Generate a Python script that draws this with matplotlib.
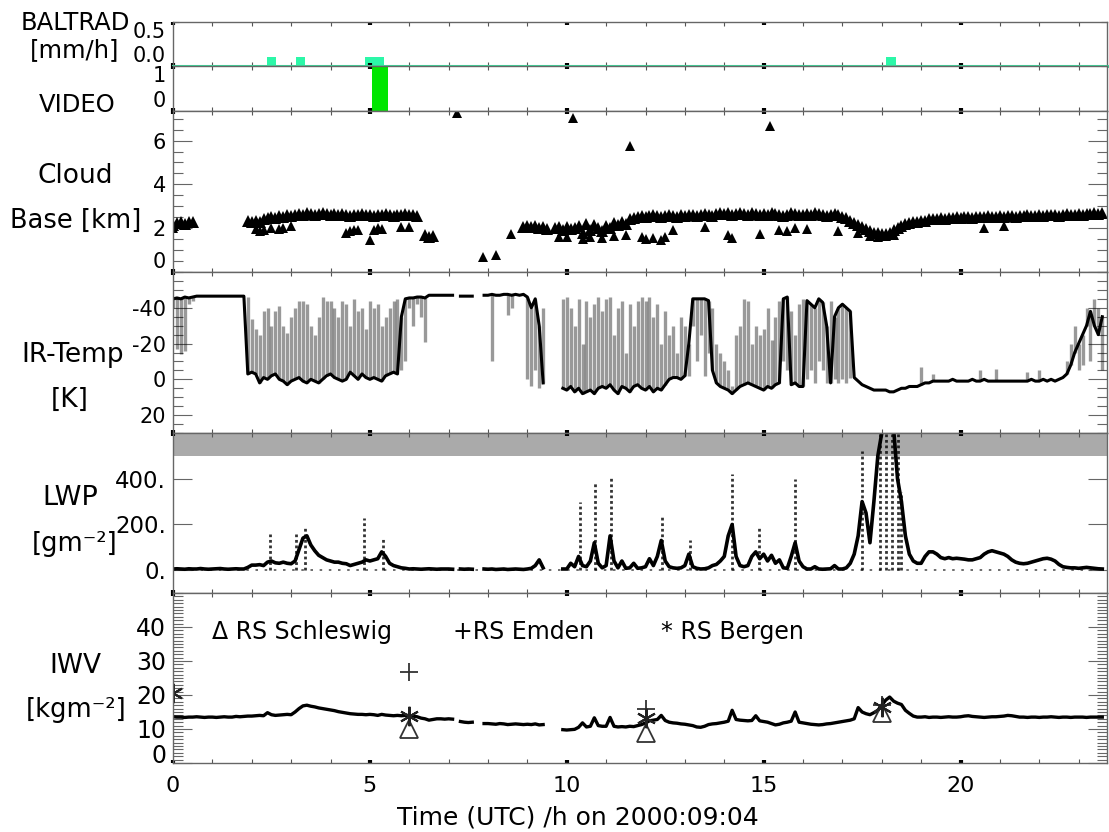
import numpy as np
import matplotlib
matplotlib.use('Agg')
import matplotlib.pyplot as plt
from matplotlib.ticker import FixedLocator, MultipleLocator, NullLocator

plt.rcParams['font.family'] = ['DejaVu Sans']
plt.rcParams['axes.unicode_minus'] = False

nan = np.nan

# 6-minute time axis for the day (hours UTC)
hours = np.round(np.arange(0, 23.65, 0.1), 1)

# BALTRAD rain rate blocks [mm/h]
rain_start = [2.39, 3.12, 4.87, 18.10]
rain_end = [2.61, 3.35, 5.36, 18.35]
rain_rate = [0.1, 0.1, 0.1, 0.1]

# video rain flag
video_start = [5.05]
video_end = [5.45]
video_flag = [1]

# cloud base [km], main layer
cloud_base = [
    2.15, 2.25, 2.3, 2.2, 2.3, 2.3, nan, nan, nan, nan,
    nan, nan, nan, nan, nan, nan, nan, nan, nan, 2.35,
    2.3, 2.35, 2.3, 2.4, 2.45, 2.5, 2.45, 2.55, 2.5, 2.6,
    2.55, 2.6, 2.65, 2.6, 2.7, 2.65, 2.6, 2.65, 2.7, 2.65,
    2.6, 2.65, 2.6, 2.65, 2.6, 2.55, 2.6, 2.6, 2.65, 2.6,
    2.6, 2.55, 2.6, 2.6, 2.65, 2.6, 2.55, 2.6, 2.6, 2.65,
    2.6, 2.6, 2.55, nan, 1.7, 1.6, 1.65, nan, nan, nan,
    nan, nan, nan, nan, nan, nan, nan, nan, nan, nan,
    nan, nan, nan, nan, nan, nan, nan, nan, nan, 2.05,
    2.1, 2.05, 2.1, 2.0, 2.05, 1.95, nan, 2.0, 2.05, 1.9,
    2.05, 1.95, 2.0, 2.1, 1.8, 2.2, 1.9, 2.15, 2.0, 1.85,
    2.1, 2.0, 2.25, 2.15, 2.3, 2.2, 2.4, 2.45, 2.5, 2.55,
    2.5, 2.55, 2.6, 2.55, 2.5, 2.55, 2.6, 2.55, 2.5, 2.6,
    2.55, 2.6, 2.6, 2.55, 2.6, 2.65, 2.6, 2.55, 2.65, 2.7,
    2.65, 2.7, 2.6, 2.65, 2.7, 2.65, 2.6, 2.7, 2.65, 2.6,
    2.65, 2.6, 2.7, 2.65, 2.6, 2.55, 2.6, 2.7, 2.65, 2.6,
    2.6, 2.65, 2.6, 2.7, 2.65, 2.6, 2.55, 2.6, 2.65, 2.6,
    2.5, 2.45, 2.35, 2.25, 2.15, 2.05, 1.95, 1.85, 1.8, 1.8,
    1.75, 1.75, 1.8, 1.9, 2.0, 2.1, 2.2, 2.25, 2.3, 2.3,
    2.35, 2.35, 2.4, 2.4, 2.4, 2.45, 2.4, 2.45, 2.45, 2.5,
    2.45, 2.5, 2.5, 2.45, 2.5, 2.5, 2.5, 2.55, 2.5, 2.5,
    2.55, 2.5, 2.55, 2.55, 2.5, 2.55, 2.55, 2.6, 2.55, 2.55,
    2.6, 2.55, 2.6, 2.6, 2.6, 2.55, 2.6, 2.65, 2.6, 2.6,
    2.65, 2.6, 2.65, 2.65, 2.7, 2.65, 2.7]

# scattered lower / isolated cloud base hits
cb_extra_t = [0.0, 2.1, 2.2, 2.3, 2.5, 2.7, 2.8, 3.0, 4.4, 4.5, 4.6, 4.7, 5.0, 5.1,
              5.2, 5.3, 5.8, 6.0, 7.2, 7.87, 8.2, 8.58, 9.8, 10.0, 10.15, 10.4,
              10.6, 10.9, 11.2, 11.5, 11.6, 11.9, 12.0, 12.2, 12.4, 12.5, 12.7,
              13.5, 14.1, 14.2, 14.9, 15.15, 15.4, 15.6, 15.8, 16.1, 16.9, 17.4,
              17.7, 17.9, 18.1, 18.3, 20.6, 21.1]
cb_extra = [2.0, 1.95, 1.85, 1.9, 2.0, 1.95, 2.0, 2.1, 1.8, 1.85, 1.9, 1.9, 1.45, 1.9,
            2.0, 1.95, 2.05, 2.05, 7.27, 0.68, 0.77, 1.73, 1.6, 1.6, 7.05, 1.5,
            1.6, 1.55, 1.65, 1.7, 5.77, 1.6, 1.5, 1.55, 1.45, 1.6, 1.9,
            2.05, 1.7, 1.55, 1.75, 6.68, 1.9, 1.85, 2.0, 1.95, 1.85, 1.8,
            1.65, 1.6, 1.65, 1.7, 2.0, 2.1]

# IR brightness temperature: dominant trace and extent of fluctuations
ir_main = [
    -45, -45.5, -45, -46, -45.5, -46, -46.5, -46.5, -46.5, -46.5,
    -46.5, -46.5, -46.5, -46.5, -46.5, -46.5, -46.5, -46.5, -46.5, -3,
    -4, -3, 2, -1, 0, -2, -3, 0, 1, 3,
    1, 0, -1, 1, 2, 0, 1, 2, 0, -2,
    -3, -1, 0, 1, 0, -4, -2, 0, -3, -1,
    0, -1, 0, 1, -2, -3, -4, -3, -35, -45,
    -45.5, -45.5, -46, -46, -45.5, -47, -47, -47, -47, -47,
    -47, -47, nan, -46.5, -46.5, -46.5, -46.5, nan, nan, -47,
    -47, -47.5, -47, -47, -47.5, -47.5, -47, -47.5, -47, -47.5,
    -46, -40, -45, -30, 2, nan, nan, nan, nan, 5,
    6, 4, 7, 5, 8, 7, 6, 8, 5, 4,
    5, 3, 6, 8, 4, 5, 7, 4, 3, 5,
    6, 4, 7, 5, 6, 3, 0, -1, -1, 0,
    -2, -20, -45, -45, -45, -45, -44, -5, 2, 4,
    5, 6, 8, 6, 4, 3, 2, 3, 4, 5,
    6, 4, 5, 3, 2, -45, -46, 3, 2, 4,
    4, -44, -42, -40, -45, -43, -30, 2, -35, -40,
    -42, -40, -38, -1, 1, 3, 4, 5, 6, 6,
    6, 6, 7, 7, 6, 5, 5, 4, 4, 4,
    3, 2, 2, 1, 1, 1, 1, 1, 0, 1,
    1, 1, 1, 0, 1, 1, 0, 1, 1, 1,
    1, 1, 1, 1, 1, 1, 1, 1, 0, 1,
    1, 0, 1, 0, 1, 0, -1, -3, -8, -15,
    -20, -25, -30, -38, -30, -25, -35]

ir_streak = [
    -40, -17, -14, -16, -42, -44, -46.5, -46.5, -46.5, -46.5,
    -46.5, -46.5, -46.5, -46.5, -46.5, -46.5, -46.5, -46.5, -46.5, -46,
    -34, -28, -25, -38, -40, -30, -38, -41, -30, -26,
    -35, -40, -44, -44, -42, -30, -25, -35, -46, -44,
    -44, -40, -35, -44, -42, -30, -45, -38, -40, -28,
    -44, -40, -42, -30, -35, -40, -44, -45, -5, -10,
    -40, -30, -42, -35, -21, -47, -47, -47, -47, -47,
    -47, -47, nan, -46.5, -46.5, -46.5, -46.5, nan, nan, -47,
    -47, -10, -47, -47, -47.5, -36, -40, -47.5, -47, -47.5,
    0, 4, -5, 5, -40, nan, nan, nan, nan, -45,
    -46, -40, -30, -45, -20, -44, -35, -42, -46, -38,
    -45, -46, -25, -40, -44, -15, -42, -30, -44, -46,
    -44, -46, -35, -42, -20, -38, -25, -30, -15, -35,
    -30, -2, -30, -10, -25, -2, -15, -40, -20, -15,
    -10, -5, 4, -25, -30, -45, -44, -20, -30, -25,
    -28, -40, -22, -35, -44, -10, -5, -38, -25, -42,
    -45, 0, -5, 2, -10, -5, 2, -44, 0, 2,
    0, 2, -1, -1, 1, 3, 4, 5, 6, 6,
    6, 6, 7, 7, 6, 5, 5, 4, 4, 4,
    -7, 2, 2, -3, 1, 1, 1, 1, 0, 1,
    1, 1, 1, 0, 1, -5, 0, 1, 1, -6,
    1, 1, 1, 1, 1, 1, 1, -4, 0, 1,
    -5, 0, 1, 0, 1, 0, -1, -10, -20, -30,
    -5, -8, -40, -10, -45, -40, -5]

# liquid water path [g/m2]
lwp = [
    5, 6, 5, 4, 6, 5, 5, 7, 5, 4,
    5, 6, 7, 5, 4, 5, 6, 5, 5, 12,
    22, 22, 24, 20, 35, 40, 32, 30, 35, 30,
    28, 40, 90, 140, 150, 110, 85, 65, 55, 45,
    40, 35, 35, 30, 28, 20, 25, 30, 35, 45,
    40, 45, 50, 80, 60, 30, 20, 15, 10, 8,
    5, 6, 5, 4, 5, 6, 5, 4, 5, 5,
    5, 4, nan, 5, 4, 5, 4, nan, nan, 5,
    4, 5, 3, 4, 5, 3, 4, 5, 4, 3,
    5, 8, 20, 45, 10, nan, nan, nan, nan, 5,
    5, 30, 15, 60, 20, 15, 40, 120, 30, 10,
    20, 150, 40, 10, 40, 8, 10, 30, 8, 10,
    15, 50, 20, 60, 130, 40, 15, 10, 8, 10,
    20, 70, 15, 8, 5, 6, 10, 20, 25, 40,
    60, 150, 200, 60, 20, 15, 20, 60, 80, 50,
    70, 40, 65, 30, 45, 10, 8, 60, 120, 40,
    15, 5, 5, 15, 5, 4, 5, 6, 20, 5,
    5, 10, 30, 70, 150, 300, 250, 120, 300, 500,
    600, 650, 700, 620, 400, 300, 150, 70, 40, 30,
    30, 60, 80, 80, 70, 55, 50, 55, 50, 52,
    50, 48, 45, 45, 50, 55, 70, 80, 85, 80,
    75, 70, 60, 45, 35, 30, 28, 30, 35, 40,
    45, 50, 52, 48, 40, 25, 15, 12, 10, 10,
    8, 10, 12, 10, 8, 6, 5]

# short LWP peaks
lwp_peak_t = [2.46, 3.12, 3.35, 4.85, 5.33, 10.33, 10.71, 11.12, 12.41, 13.12,
              14.19, 14.87, 15.79, 17.49, 17.95, 18.1, 18.25, 18.4, 18.5]
lwp_peak = [160, 160, 185, 230, 140, 300, 380, 405, 235, 130,
            420, 185, 400, 520, 600, 600, 600, 600, 340]

# integrated water vapour [kg/m2]
iwv = [
    13.6, 13.5, 13.5, 13.4, 13.5, 13.5, 13.6, 13.5, 13.4, 13.5,
    13.5, 13.4, 13.5, 13.6, 13.5, 13.5, 13.7, 13.6, 13.7, 13.8,
    13.8, 13.9, 14.0, 13.9, 14.8, 14.2, 14.0, 14.1, 14.2, 14.3,
    14.2, 15.0, 16.0, 16.8, 17.0, 16.7, 16.5, 16.2, 16.0, 15.8,
    15.6, 15.4, 15.1, 14.9, 14.7, 14.5, 14.4, 14.3, 14.3, 14.2,
    14.3, 14.2, 14.0, 14.3, 14.1, 14.0, 13.9, 14.0, 13.9, 14.0,
    14.0, 13.8, 13.6, 13.2, 13.0, 12.6, 12.8, 13.0, 13.0, 12.9,
    13.0, 12.9, nan, 12.2, 12.0, 11.9, 12.0, nan, nan, 11.6,
    11.6, 11.5, 11.4, 11.6, 11.5, 11.3, 11.4, 11.5, 11.4, 11.3,
    11.4, 11.3, 11.5, 11.2, 11.3, nan, nan, nan, nan, 9.8,
    9.7, 9.8, 9.9, 10.5, 11.8, 10.6, 10.8, 13.3, 11.0, 10.8,
    10.8, 13.4, 10.8, 10.6, 10.7, 10.6, 10.8, 10.7, 11.0, 11.3,
    11.8, 12.4, 12.6, 12.8, 14.0, 12.5, 12.0, 11.8, 11.7, 11.5,
    11.4, 11.2, 11.0, 10.6, 10.5, 10.8, 11.3, 11.5, 11.6, 11.8,
    12.0, 12.3, 15.5, 12.8, 12.6, 12.5, 12.4, 12.5, 13.9, 12.4,
    12.2, 12.0, 11.6, 11.2, 11.4, 11.8, 12.0, 12.3, 15.0, 12.0,
    11.8, 11.6, 11.4, 11.3, 11.2, 11.3, 11.5, 11.6, 11.8, 12.0,
    12.2, 12.4, 12.6, 13.0, 16.3, 15.0, 14.5, 14.2, 14.8, 15.5,
    17.0, 18.5, 19.4, 18.2, 17.6, 17.2, 15.5, 14.6, 13.8, 13.5,
    13.5, 13.6, 13.4, 13.5, 13.5, 13.4, 13.5, 13.6, 13.5, 13.5,
    13.6, 13.8, 13.9, 13.7, 13.6, 13.5, 13.4, 13.5, 13.6, 13.6,
    13.7, 13.8, 14.0, 13.9, 13.7, 13.5, 13.5, 13.4, 13.5, 13.5,
    13.4, 13.5, 13.5, 13.6, 13.5, 13.4, 13.5, 13.5, 13.4, 13.5,
    13.5, 13.5, 13.4, 13.5, 13.5, 13.5, 13.5]

# radiosonde IWV
schleswig_t = [6, 12, 18]
schleswig = [10.0, 8.8, 14.8]
emden_t = [6, 12, 18]
emden = [26.8, 16.0, 17.0]
bergen_t = [0, 6, 12, 18]
bergen = [20.5, 13.8, 13.2, 16.5]

W, H = 1109, 832
fig = plt.figure(figsize=(W / 100, H / 100), dpi=100)


def panel(top, bottom):
    return fig.add_axes([173 / W, 1 - bottom / H, 934 / W, (bottom - top) / H])


ax_rr = panel(22, 66)
ax_vid = panel(66, 111)
ax_cb = panel(111, 272)
ax_ir = panel(272, 433)
ax_lwp = panel(433, 593)
ax_iwv = panel(593, 763)
axes = [ax_rr, ax_vid, ax_cb, ax_ir, ax_lwp, ax_iwv]

for ax in axes:
    ax.set_xlim(0, 23.72)
    ax.xaxis.set_major_locator(FixedLocator([0, 5, 10, 15, 20]))
    ax.xaxis.set_minor_locator(MultipleLocator(1))
    ax.tick_params(axis='x', which='major', direction='in', length=2.5, width=3,
                   top=True, bottom=True, color='k', labelbottom=False)
    ax.tick_params(axis='x', which='minor', direction='in', length=3, width=0.8,
                   top=True, bottom=True, color='#555555')
    ax.tick_params(axis='y', which='major', direction='in', length=14, width=0.8,
                   left=True, right=True, color='#666666', labelsize=15, pad=5)
    ax.tick_params(axis='y', which='minor', direction='in', length=7, width=0.8,
                   left=True, right=True, color='#666666')
    for sp in ax.spines.values():
        sp.set_color('#666666')
        sp.set_linewidth(1.0)

# rain gauge panel
ax_rr.set_ylim(0, 0.5)
ax_rr.set_yticks([0, 0.5], labels=['0.0', '0.5'])
ax_rr.tick_params(axis='y', which='major', length=4)
ax_rr.bar(rain_start, rain_rate, width=np.subtract(rain_end, rain_start),
          align='edge', color='#2cf7a8', lw=0)
ax_rr.axhline(0, color='#3fd99c', lw=2.2, zorder=3, clip_on=False)

# video panel
ax_vid.set_ylim(0, 1)
ax_vid.set_yticks([0, 1], labels=['0', '1'])
ax_vid.tick_params(axis='y', which='major', length=4)
ax_vid.bar(video_start, video_flag, width=np.subtract(video_end, video_start),
           align='edge', color='#00e600', lw=0)

# cloud base
ax_cb.set_ylim(0, 7.35)
ax_cb.set_yticks([0, 2, 4, 6], labels=['0', '2', '4', '6'])
ax_cb.yaxis.set_minor_locator(MultipleLocator(0.5))
ax_cb.plot(hours, cloud_base, '^', color='k', ms=8, mew=0)
ax_cb.plot(cb_extra_t, cb_extra, '^', color='k', ms=6.5, mew=0)

# IR temperature
ax_ir.set_ylim(30, -60)
ax_ir.set_yticks([-40, -20, 0, 20], labels=['-40', '-20', '0', '20'])
ax_ir.yaxis.set_minor_locator(MultipleLocator(5))
ax_ir.vlines(hours, ir_main, ir_streak, colors='k', lw=2.4, alpha=0.4)
ax_ir.plot(hours, ir_main, color='k', lw=2.2)

# liquid water path
ax_lwp.set_ylim(-100, 600)
ax_lwp.set_yticks([0, 200, 400], labels=['0.', '200.', '400.'])
ax_lwp.yaxis.set_minor_locator(NullLocator())
ax_lwp.tick_params(axis='y', labelsize=16.5)
ax_lwp.axhspan(500, 600, color='#aaaaaa', lw=0, zorder=0)
ax_lwp.axhline(0, color='#555555', lw=1.2, ls=(0, (1.5, 4)))
ax_lwp.vlines(lwp_peak_t, 0, lwp_peak, colors='k', lw=2, linestyles=(0, (1, 1)), alpha=0.8)
ax_lwp.plot(hours, lwp, color='k', lw=2.6)

# water vapour
ax_iwv.set_ylim(0, 50)
ax_iwv.set_yticks([0, 10, 20, 30, 40], labels=['0', '10', '20', '30', '40'])
ax_iwv.yaxis.set_minor_locator(MultipleLocator(1))
ax_iwv.tick_params(axis='y', labelsize=17)
ax_iwv.plot(hours, iwv, color='k', lw=2.4)
ax_iwv.plot(schleswig_t, schleswig, '^', ms=13, mfc='none', mec='#333333', mew=1.3)
ax_iwv.plot(emden_t, emden, '+', ms=13, color='#333333', mew=1.3)
ax_iwv.plot(bergen_t, bergen, marker=(6, 2, 0), ls='none', ms=14, color='#222222', mew=1.5)
ax_iwv.text(1.0, 38.5, 'Δ RS Schleswig', fontsize=17, va='center')
ax_iwv.text(7.1, 38.5, '+RS Emden', fontsize=17, va='center')
ax_iwv.text(12.4, 38.5, '* RS Bergen', fontsize=17, va='center')
ax_iwv.tick_params(axis='x', which='major', labelbottom=True, labelsize=16, pad=9)

# end tick labels sit inside the panel
for ax, first, last in [(ax_rr, 'bottom', 'top'), (ax_vid, 'bottom', 'top'),
                        (ax_cb, 'bottom', None), (ax_iwv, 'baseline', None)]:
    ticks = ax.yaxis.get_major_ticks()
    ticks[0].label1.set_va(first)
    if last:
        ticks[-1].label1.set_va(last)

# panel titles on the left
titles = [('BALTRAD', 75, 30, 17.5), ('[mm/h]', 75, 57, 17.5), ('VIDEO', 77, 112, 17.5),
          ('Cloud', 75, 183, 19), ('Base [km]', 76, 228, 18.5),
          ('IR-Temp', 73, 362, 19), ('[K]', 70, 407, 19),
          ('LWP', 70, 505, 19.5), ('[gm⁻²]', 75, 551, 18.5),
          ('IWV', 75, 673, 19), ('[kgm⁻²]', 76, 717, 18.5)]
for s, x, y, fs in titles:
    fig.text(x / W, 1 - y / H, s, ha='center', va='baseline', fontsize=fs)

fig.text(578 / W, 1 - 818 / H, 'Time (UTC) /h on 2000:09:04', ha='center', va='center', fontsize=18)

fig.savefig('out.png', dpi=100)
